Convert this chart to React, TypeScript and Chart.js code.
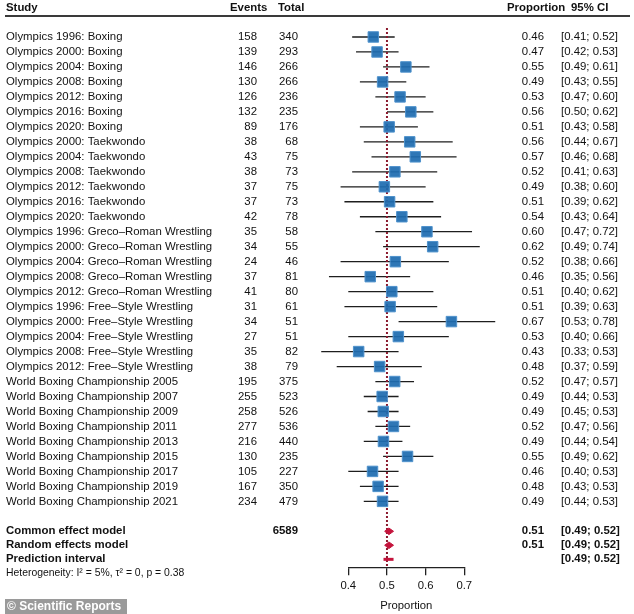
import React, { useEffect, useRef } from 'react';
import { Chart, registerables } from 'chart.js';

Chart.register(...registerables);

// ---------- data ----------
const studies = [
  'Olympics 1996: Boxing',
  'Olympics 2000: Boxing',
  'Olympics 2004: Boxing',
  'Olympics 2008: Boxing',
  'Olympics 2012: Boxing',
  'Olympics 2016: Boxing',
  'Olympics 2020: Boxing',
  'Olympics 2000: Taekwondo',
  'Olympics 2004: Taekwondo',
  'Olympics 2008: Taekwondo',
  'Olympics 2012: Taekwondo',
  'Olympics 2016: Taekwondo',
  'Olympics 2020: Taekwondo',
  'Olympics 1996: Greco\u2013Roman Wrestling',
  'Olympics 2000: Greco\u2013Roman Wrestling',
  'Olympics 2004: Greco\u2013Roman Wrestling',
  'Olympics 2008: Greco\u2013Roman Wrestling',
  'Olympics 2012: Greco\u2013Roman Wrestling',
  'Olympics 1996: Free\u2013Style Wrestling',
  'Olympics 2000: Free\u2013Style Wrestling',
  'Olympics 2004: Free\u2013Style Wrestling',
  'Olympics 2008: Free\u2013Style Wrestling',
  'Olympics 2012: Free\u2013Style Wrestling',
  'World Boxing Championship 2005',
  'World Boxing Championship 2007',
  'World Boxing Championship 2009',
  'World Boxing Championship 2011',
  'World Boxing Championship 2013',
  'World Boxing Championship 2015',
  'World Boxing Championship 2017',
  'World Boxing Championship 2019',
  'World Boxing Championship 2021',
];

const events = [158, 139, 146, 130, 126, 132, 89, 38, 43, 38, 37, 37, 42, 35, 34, 24, 37, 41, 31, 34, 27, 35, 38, 195, 255, 258, 277, 216, 130, 105, 167, 234];
const totals = [340, 293, 266, 266, 236, 235, 176, 68, 75, 73, 75, 73, 78, 58, 55, 46, 81, 80, 61, 51, 51, 82, 79, 375, 523, 526, 536, 440, 235, 227, 350, 479];

const proportions = [0.4647, 0.4744, 0.5489, 0.4887, 0.5339, 0.5617, 0.5057, 0.5588, 0.5733, 0.5205, 0.4933, 0.5068, 0.5385, 0.6034, 0.6182, 0.5217, 0.4568, 0.5125, 0.5082, 0.6667, 0.5294, 0.4268, 0.481, 0.52, 0.4876, 0.4905, 0.5168, 0.4909, 0.5532, 0.4626, 0.4771, 0.4885];
const proportionLabels = ['0.46', '0.47', '0.55', '0.49', '0.53', '0.56', '0.51', '0.56', '0.57', '0.52', '0.49', '0.51', '0.54', '0.60', '0.62', '0.52', '0.46', '0.51', '0.51', '0.67', '0.53', '0.43', '0.48', '0.52', '0.49', '0.49', '0.52', '0.49', '0.55', '0.46', '0.48', '0.49'];
const ciLow = [0.41, 0.42, 0.49, 0.43, 0.47, 0.50, 0.43, 0.44, 0.46, 0.41, 0.38, 0.39, 0.43, 0.47, 0.49, 0.38, 0.35, 0.40, 0.39, 0.53, 0.40, 0.33, 0.37, 0.47, 0.44, 0.45, 0.47, 0.44, 0.49, 0.40, 0.43, 0.44];
const ciHigh = [0.52, 0.53, 0.61, 0.55, 0.60, 0.62, 0.58, 0.67, 0.68, 0.63, 0.60, 0.62, 0.64, 0.72, 0.74, 0.66, 0.56, 0.62, 0.63, 0.78, 0.66, 0.53, 0.59, 0.57, 0.53, 0.53, 0.56, 0.54, 0.62, 0.53, 0.53, 0.53];

const summaryLabels = ['Common effect model', 'Random effects model', 'Prediction interval'];
const summaryTotals = ['6589', '', ''];
const summaryEst = [0.505, 0.505, 0.505];
const summaryEstText = ['0.51', '0.51', ''];
const summaryLow = [0.494, 0.494, 0.491];
const summaryHigh = [0.517, 0.517, 0.517];
const summaryCiText = ['[0.49; 0.52]', '[0.49; 0.52]', '[0.49; 0.52]'];
const heterogeneityText = 'Heterogeneity: I\u00B2 = 5%, \u03C4\u00B2 = 0, p = 0.38';

const referenceValue = 0.5;
const xTickMin = 0.4;
const xTickMax = 0.7;
const xTickStep = 0.1;
const xTitle = 'Proportion';
const headers = { study: 'Study', events: 'Events', total: 'Total', prop: 'Proportion', ci: '95% CI' };
const watermark = '\u00A9 Scientific Reports';

// ---------- layout (row units) ----------
const studyRows = studies.map((_, i) => i + 1);
const summaryRows = [34, 34.93, 35.87];
const heteroRow = 36.8;
const headerRow = -0.93;
const headerLineRow = -0.4;
const refTopRow = 0.4;

const FONT = "'Liberation Sans', Arial, Helvetica, sans-serif";
const RED = '#c4143c';
const DARKRED = '#8b1a2e';

const tablePlugin = {
  id: 'forestTable',
  afterDraw(chart: any) {
    const ctx: CanvasRenderingContext2D = chart.ctx;
    const ys = chart.scales.y;
    const py = (r: number) => ys.getPixelForValue(r);
    ctx.save();
    ctx.fillStyle = '#111';
    ctx.textBaseline = 'middle';

    // headers
    ctx.font = `bold 11.4px ${FONT}`;
    ctx.textAlign = 'left';
    ctx.fillText(headers.study, 6, py(headerRow));
    ctx.fillText(headers.events, 230, py(headerRow));
    ctx.fillText(headers.total, 278, py(headerRow));
    ctx.fillText(headers.prop, 507, py(headerRow));
    ctx.fillText(headers.ci, 571, py(headerRow));

    ctx.strokeStyle = '#3a3a3a';
    ctx.lineWidth = 2;
    ctx.beginPath();
    ctx.moveTo(5, py(headerLineRow));
    ctx.lineTo(630, py(headerLineRow));
    ctx.stroke();

    // study rows
    ctx.font = `11.4px ${FONT}`;
    studies.forEach((s, i) => {
      const y = py(studyRows[i]);
      ctx.textAlign = 'left';
      ctx.fillText(s, 6, y);
      ctx.textAlign = 'right';
      ctx.fillText(String(events[i]), 257, y);
      ctx.fillText(String(totals[i]), 298, y);
      ctx.fillText(proportionLabels[i], 544, y);
      ctx.textAlign = 'left';
      ctx.fillText(`[${ciLow[i].toFixed(2)}; ${ciHigh[i].toFixed(2)}]`, 561, y);
    });

    // summary rows
    ctx.font = `bold 11.4px ${FONT}`;
    summaryLabels.forEach((s, i) => {
      const y = py(summaryRows[i]);
      ctx.textAlign = 'left';
      ctx.fillText(s, 6, y);
      ctx.textAlign = 'right';
      if (summaryTotals[i]) ctx.fillText(summaryTotals[i], 298, y);
      if (summaryEstText[i]) ctx.fillText(summaryEstText[i], 544, y);
      ctx.textAlign = 'left';
      ctx.fillText(summaryCiText[i], 561, y);
    });

    ctx.font = `10.4px ${FONT}`;
    ctx.textAlign = 'left';
    ctx.fillText(heterogeneityText, 6, py(heteroRow));

    // watermark
    ctx.fillStyle = '#9a9a9a';
    ctx.fillRect(5, 599, 122, 15);
    ctx.fillStyle = '#ffffff';
    ctx.font = `bold 12px ${FONT}`;
    ctx.fillText(watermark, 7, 607);
    ctx.restore();
  },
};

function diamond(lo: number, est: number, hi: number, r: number, h: number) {
  return [
    { x: lo, y: r },
    { x: est, y: r - h },
    { x: hi, y: r },
    { x: est, y: r + h },
    { x: lo, y: r },
  ];
}

export default function App() {
  const ref = useRef<HTMLCanvasElement | null>(null);

  useEffect(() => {
    if (!ref.current) return;
    const ciData: any[] = [];
    studies.forEach((_, i) => {
      ciData.push({ x: ciLow[i], y: studyRows[i] });
      ciData.push({ x: ciHigh[i], y: studyRows[i] });
      ciData.push({ x: ciHigh[i], y: null });
    });
    const squares = studies.map((_, i) => ({ x: proportions[i], y: studyRows[i] }));
    const lastAxisRow = 36.4;

    const chart = new Chart(ref.current, {
      type: 'line',
      data: {
        datasets: [
          {
            data: diamond(summaryLow[0], summaryEst[0], summaryHigh[0], summaryRows[0], 0.22),
            borderColor: RED,
            backgroundColor: RED,
            borderWidth: 1,
            fill: 'shape',
            pointRadius: 0,
            tension: 0,
            clip: false,
          } as any,
          {
            data: diamond(summaryLow[1], summaryEst[1], summaryHigh[1], summaryRows[1], 0.22),
            borderColor: RED,
            backgroundColor: RED,
            borderWidth: 1,
            fill: 'shape',
            pointRadius: 0,
            tension: 0,
            clip: false,
          } as any,
          {
            data: [
              { x: summaryLow[2], y: summaryRows[2] },
              { x: summaryHigh[2], y: summaryRows[2] },
            ],
            borderColor: RED,
            borderWidth: 3,
            pointRadius: 0,
            fill: false,
            clip: false,
          } as any,
          {
            data: squares,
            showLine: false,
            pointStyle: 'rect',
            pointRadius: 7.4,
            pointHoverRadius: 7.4,
            pointBackgroundColor: 'rgba(31,109,176,0.93)',
            pointBorderColor: '#4f92cc',
            pointBorderWidth: 1,
            clip: false,
          } as any,
          {
            data: [
              { x: referenceValue, y: refTopRow },
              { x: referenceValue, y: lastAxisRow },
            ],
            borderColor: DARKRED,
            borderWidth: 2,
            borderDash: [2, 2],
            pointRadius: 0,
            fill: false,
            clip: false,
          } as any,
          {
            data: ciData,
            borderColor: '#1e1e1e',
            borderWidth: 1.3,
            pointRadius: 0,
            spanGaps: false,
            fill: false,
            clip: false,
          } as any,
        ],
      },
      options: {
        animation: false,
        responsive: false,
        devicePixelRatio: 1,
        events: [],
        layout: { padding: { left: 348.3, right: 169.7, top: 22, bottom: 1.4 } },
        plugins: { legend: { display: false }, tooltip: { enabled: false } },
        scales: {
          x: {
            type: 'linear',
            position: 'bottom',
            min: xTickMin,
            max: xTickMax,
            grid: { drawOnChartArea: false, drawTicks: true, tickLength: 8, color: '#222', lineWidth: 1.3 },
            border: { display: true, color: '#222', width: 1.3 },
            ticks: {
              stepSize: xTickStep,
              padding: 4,
              color: '#111',
              font: { family: FONT, size: 11.3 },
              callback: (v: any) => Number(v).toFixed(1),
            },
            title: {
              display: true,
              text: xTitle,
              color: '#111',
              font: { family: FONT, size: 11.3 },
              padding: { top: 2.2, bottom: 0 },
            },
          },
          y: { type: 'linear', display: false, reverse: true, min: 0, max: lastAxisRow },
        },
      } as any,
      plugins: [tablePlugin],
    });
    return () => chart.destroy();
  }, []);

  return (
    <div style={{ position: 'absolute', left: 0, top: 0, width: 634, height: 614, background: '#fff' }}>
      <canvas ref={ref} width={634} height={614} style={{ display: 'block' }} />
    </div>
  );
}
